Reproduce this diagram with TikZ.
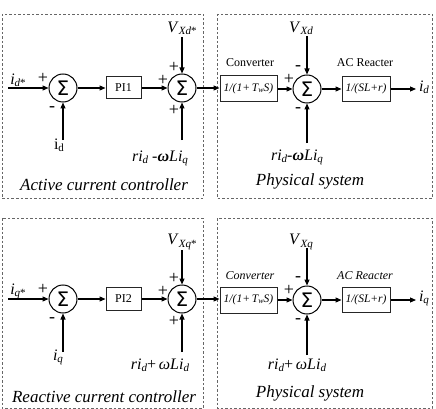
\documentclass[tikz,border=0pt]{standalone}
\usepackage{fontspec}
\setmainfont{Liberation Serif}
\newfontfamily\sigmafont{DejaVu Sans}
\usetikzlibrary{arrows.meta}
\newcommand{\lowsub}[1]{\raisebox{-0.3ex}{\fontsize{11}{11}\selectfont #1}}
\newcommand{\boxsub}[1]{\raisebox{-0.2ex}{\fontsize{8}{8}\selectfont #1}}
\newcommand{\fs}[1]{\fontsize{#1}{#1}\selectfont}
\begin{document}
\begin{tikzpicture}[x=1pt,y=-1pt,
  frame/.style={draw=black!60, dash pattern=on 2.5pt off 2pt, line width=0.9pt},
  blk/.style={draw=black!85, line width=1pt, inner sep=0pt, font=\fs{12}},
  sumc/.style={circle, draw, line width=1pt, minimum size=28pt, inner sep=0pt, font=\sigmafont\fs{20}},
  arr/.style={-{Triangle[length=6pt,width=5pt]}, line width=1.1pt},
  sgn/.style={font=\fs{18}, inner sep=0pt},
  lbl/.style={inner sep=0pt, font=\fs{16}},
  captxt/.style={inner sep=0pt, font=\itshape\fs{17}},
  small/.style={inner sep=0pt, font=\fs{12}}
]
\useasboundingbox (0,0) rectangle (436,409);
% frames
\draw[frame] (2,14) rectangle (203,198);
\draw[frame] (217,14) rectangle (432,198);
\draw[frame] (2,218) rectangle (203,408);
\draw[frame] (217,218) rectangle (432,408);

% ---------- top row ----------
\node[sumc] (s1) at (63,88) {Σ};
\node[blk, minimum width=35pt, minimum height=22pt] (pi1) at (123.5,88) {PI1};
\node[sumc] (s2) at (182,88) {Σ};
\node[blk, minimum width=57pt, minimum height=26pt, font=\itshape\fs{11.5}] (cv1) at (248.5,89) {1/(1+\,T\boxsub{w}S)};
\node[sumc] (s3) at (307,89) {Σ};
\node[blk, minimum width=48pt, minimum height=25pt, font=\itshape\fs{11.5}] (ac1) at (366,89) {1/(SL+r)};
\coordinate (in1) at (8,88);
\coordinate (fb1) at (63,140);
\coordinate (t2) at (182,37);
\coordinate (b2) at (182,140);
\coordinate (t3) at (307,36);
\coordinate (b3) at (307,143);
\coordinate (o1) at (416,89);

\draw[arr] (in1) -- (s1);
\draw[arr] (fb1) -- (s1);
\draw[arr] (s1) -- (pi1);
\draw[arr] (pi1) -- (s2);
\draw[arr] (t2) -- (s2);
\draw[arr] (b2) -- (s2);
\draw[arr] (s2.east) -- (s2.east -| cv1.west);
\draw[arr] (cv1) -- (s3);
\draw[arr] (t3) -- (s3);
\draw[arr] (b3) -- (s3);
\draw[arr] (s3) -- (ac1);
\draw[arr] (ac1.east) -- (o1);

\node[lbl] (lin1) at (18,80) {\textit{i}\lowsub{\textit{d}*}};
\node[lbl] (lfb1) at (59,145) {i\lowsub{d}};
\node[lbl] (lt2) at (182,28) {\textit{V}\lowsub{\textit{Xd}*}};
\node[lbl] (lb2) at (160,158) {\textit{ri}\lowsub{\textit{d}} -\textbf{\textit{ω}}\textit{Li}\lowsub{\textit{q}}};
\node[lbl] (lt3) at (301,28) {\textit{V}\lowsub{\textit{Xd}}};
\node[lbl] (lb3) at (297,157) {\textit{ri}\lowsub{\textit{d}}-\textbf{\textit{ω}}\textit{Li}\lowsub{\textit{q}}};
\node[lbl] (lo1) at (424,87) {\textit{i}\lowsub{\textit{d}}};
\node[small] (lcv1) at (250,63) {Converter};
\node[small] (lac1) at (365,63) {AC Reacter};
\node[captxt] (cap1) at (104,185) {Active current controller};
\node[captxt] (cap2) at (310,181) {Physical system};

\node[sgn] at (43,78) {+};
\node[sgn] at (52,109) {-};
\node[sgn] at (163,80) {+};
\node[sgn] at (174,67) {+};
\node[sgn] at (174,110) {+};
\node[sgn] at (289,79) {+};
\node[sgn] at (298,68) {-};
\node[sgn] at (298,110) {-};

% ---------- bottom row ----------
\node[sumc] (s1b) at (63,299) {Σ};
\node[blk, minimum width=35pt, minimum height=23pt] (pi2) at (123.5,299) {PI2};
\node[sumc] (s2b) at (182,299) {Σ};
\node[blk, minimum width=57pt, minimum height=26pt, font=\itshape\fs{11.5}] (cv2) at (248.5,300) {1/(1+\,T\boxsub{w}S)};
\node[sumc] (s3b) at (307,300) {Σ};
\node[blk, minimum width=48pt, minimum height=25pt, font=\itshape\fs{11.5}] (ac2) at (366,300) {1/(SL+r)};
\coordinate (in2) at (8,299);
\coordinate (fb2) at (63,352);
\coordinate (t2b) at (182,250);
\coordinate (b2b) at (182,352);
\coordinate (t3b) at (307,248);
\coordinate (b3b) at (307,355);
\coordinate (o2) at (416,300);

\draw[arr] (in2) -- (s1b);
\draw[arr] (fb2) -- (s1b);
\draw[arr] (s1b) -- (pi2);
\draw[arr] (pi2) -- (s2b);
\draw[arr] (t2b) -- (s2b);
\draw[arr] (b2b) -- (s2b);
\draw[arr] (s2b.east) -- (s2b.east -| cv2.west);
\draw[arr] (cv2) -- (s3b);
\draw[arr] (t3b) -- (s3b);
\draw[arr] (b3b) -- (s3b);
\draw[arr] (s3b) -- (ac2);
\draw[arr] (ac2.east) -- (o2);

\node[lbl] (lin2) at (18,291) {\textit{i}\lowsub{\textit{q}*}};
\node[lbl] (lfb2) at (58,357) {\textit{i}\lowsub{\textit{q}}};
\node[lbl] (lt2b) at (182,242) {\textit{V}\lowsub{\textit{Xq}*}};
\node[lbl] (lb2b) at (160,365) {\textit{ri}\lowsub{\textit{d}}+\,\textit{ω}\textit{Li}\lowsub{\textit{d}}};
\node[lbl] (lt3b) at (301,242) {\textit{V}\lowsub{\textit{Xq}}};
\node[lbl] (lb3b) at (297,365) {\textit{ri}\lowsub{\textit{d}}+\,\textit{ω}\textit{Li}\lowsub{\textit{d}}};
\node[lbl] (lo2) at (424,298) {\textit{i}\lowsub{\textit{q}}};
\node[small, font=\itshape\fs{12}] (lcv2) at (250,276) {Converter};
\node[small, font=\itshape\fs{12}] (lac2) at (365,276) {AC Reacter};
\node[captxt] (cap3) at (104,397) {Reactive current controller};
\node[captxt] (cap4) at (310,393) {Physical system};

\node[sgn] at (43,289) {+};
\node[sgn] at (52,320) {-};
\node[sgn] at (163,291) {+};
\node[sgn] at (174,278) {+};
\node[sgn] at (174,321) {+};
\node[sgn] at (289,290) {+};
\node[sgn] at (298,279) {-};
\node[sgn] at (298,321) {-};
\end{tikzpicture}
\end{document}
